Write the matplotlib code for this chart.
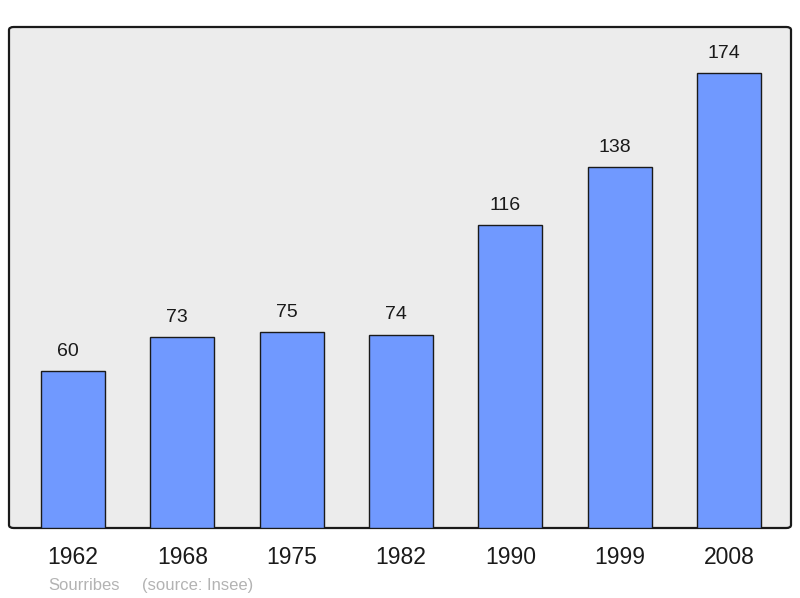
import matplotlib
matplotlib.use('Agg')
import matplotlib.pyplot as plt
from matplotlib.patches import FancyBboxPatch

# Population data (Insee)
years = ['1962', '1968', '1975', '1982', '1990', '1999', '2008']
population = [60, 73, 75, 74, 116, 138, 174]
commune = 'Sourribes'
source = '(source: Insee)'

plt.rcParams['font.family'] = ['Liberation Sans', 'DejaVu Sans']

fig = plt.figure(figsize=(8, 5.98), dpi=100)
ax = fig.add_axes([9 / 800, 70 / 598, 782 / 800, 501 / 598])
ax.set_facecolor('none')

# background frame with slightly rounded corners
frame = FancyBboxPatch((0, 0), 1, 1, boxstyle='round,pad=0,rounding_size=0.006',
                       transform=ax.transAxes, facecolor='#ececec',
                       edgecolor='#1a1a1a', linewidth=1.6, zorder=0, clip_on=False)
ax.add_patch(frame)

x = range(len(years))
bars = ax.bar(x, population, width=0.585, color='#7099ff', edgecolor='#1a1a1a',
              linewidth=1.0, zorder=2)

# value labels sit a little left of the bar centre, like the original
for xi, v in zip(x, population):
    ax.annotate(str(v), (xi, v), xytext=(-3.6, 11), textcoords='offset points',
                ha='center', va='baseline', fontsize=14, color='#1a1a1a')

ax.set_xlim(-0.585, 6.567)
ax.set_ylim(0, 191.7)
ax.set_xticks(list(x))
ax.set_xticklabels(years, fontsize=16.5, color='#1a1a1a')
ax.tick_params(axis='x', length=0, pad=13)
ax.set_yticks([])
for s in ax.spines.values():
    s.set_visible(False)

fig.text(48 / 800, 1 - 590 / 598, commune, fontsize=12, color='#b3b3b3',
         ha='left', va='baseline')
fig.text(142 / 800, 1 - 590 / 598, source, fontsize=12, color='#b3b3b3',
         ha='left', va='baseline')

fig.savefig('out.png', dpi=100)
